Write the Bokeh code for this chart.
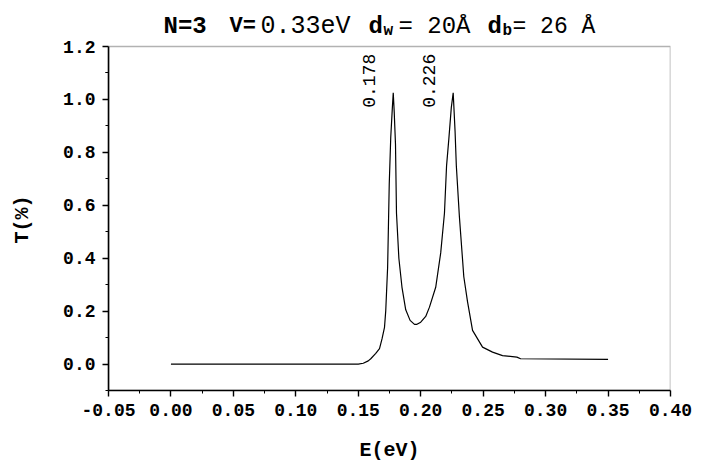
from bokeh.plotting import figure
from bokeh.models import Label, FixedTicker, PrintfTickFormatter, Range1d, BoxAnnotation
from bokeh.embed import file_html
from bokeh.resources import INLINE

# ---- data ----
energy = [0.000, 0.150, 0.154, 0.158, 0.160, 0.164, 0.167, 0.169, 0.171, 0.172,
          0.1735, 0.1748, 0.176, 0.1773, 0.178, 0.1788, 0.1798, 0.1806, 0.1825,
          0.1850, 0.1880, 0.1915, 0.1950, 0.1970, 0.2000, 0.2040, 0.2070, 0.2120,
          0.2160, 0.2190, 0.2207, 0.2225, 0.2245, 0.2260, 0.2275, 0.2285, 0.2310,
          0.2345, 0.2375, 0.2415, 0.2495, 0.2575, 0.2655, 0.2770, 0.2800, 0.3500]
trans = [0.000, 0.000, 0.003, 0.012, 0.020, 0.040, 0.058, 0.095, 0.139, 0.202,
         0.366, 0.681, 0.857, 0.970, 1.025, 0.950, 0.830, 0.570, 0.400,
         0.290, 0.205, 0.165, 0.150, 0.150, 0.158, 0.180, 0.215, 0.290,
         0.420, 0.570, 0.750, 0.850, 0.970, 1.025, 0.880, 0.750, 0.555,
         0.330, 0.235, 0.127, 0.064, 0.045, 0.032, 0.026, 0.020, 0.018]
peak_e = [0.178, 0.226]
peak_t = [1.025, 1.025]
peak_labels = ["0.178", "0.226"]
x_ticks = [-0.05, 0.00, 0.05, 0.10, 0.15, 0.20, 0.25, 0.30, 0.35, 0.40]
y_ticks = [0.0, 0.2, 0.4, 0.6, 0.8, 1.0, 1.2]
title_parts = ["N=3", "V=", "0.33eV", "d", "w", "= 20Å", "d", "b", "= 26 Å"]

MONO = "Liberation Mono"
X0, X1, Y0, Y1 = -0.05, 0.40, -0.1, 1.2
W, H = 700, 464
BL, BR, BB = 108, 30, 74
BOX_TOP = 46                      # pixel row of the visible box top
FW = W - BL - BR
FH = H - BB                       # frame reaches the canvas top (room for title)
PX_PER_Y = (FH - BOX_TOP) / (Y1 - Y0)
Y_TOP = Y0 + FH / PX_PER_Y
NBSP = "\u00a0"


def data_x(px):
    return X0 + (px - BL) / FW * (X1 - X0)


def data_y(py):
    return Y0 + (FH - py) / PX_PER_Y


p = figure(width=W, height=H, output_backend="svg", toolbar_location=None,
           x_range=Range1d(X0, X1), y_range=Range1d(Y0, Y_TOP),
           min_border_left=BL, min_border_right=BR, min_border_top=0,
           min_border_bottom=BB)
p.xgrid.visible = False
p.ygrid.visible = False
p.outline_line_color = None
p.background_fill_color = "white"
p.border_fill_color = "white"

# visible plot box
p.add_layout(BoxAnnotation(left=X0, right=X1, bottom=Y0, top=Y1,
                           fill_alpha=0, line_color="black", line_width=1.6))

p.line(energy, trans, line_color="black", line_width=1.2)

for ax in (p.xaxis[0], p.yaxis[0]):
    ax.axis_line_width = 1.6
    ax.axis_line_color = "black"
    ax.major_tick_line_color = "black"
    ax.minor_tick_line_color = "black"
    ax.major_tick_line_width = 1.4
    ax.major_tick_out = 6
    ax.major_tick_in = 0
    ax.minor_tick_out = 3
    ax.minor_tick_in = 0
    ax.major_label_text_font = MONO
    ax.major_label_text_font_style = "bold"
    ax.major_label_text_font_size = "18px"
    ax.major_label_text_color = "black"
    ax.axis_label_text_font = MONO
    ax.axis_label_text_font_style = "bold"
    ax.axis_label_text_color = "black"
    ax.major_label_standoff = 7

p.yaxis.bounds = (Y0, Y1)
p.xaxis.ticker = FixedTicker(ticks=x_ticks,
                             minor_ticks=[t + 0.025 for t in x_ticks[:-1]])
p.yaxis.ticker = FixedTicker(ticks=y_ticks,
                             minor_ticks=[t - 0.1 for t in y_ticks] + [1.1])
p.xaxis.formatter = PrintfTickFormatter(format="%.2f")
p.yaxis.formatter = PrintfTickFormatter(format="%.1f")
p.xaxis.axis_label = "E(eV)"
# trailing no-break spaces centre the visible label on the box, not the taller frame
p.yaxis.axis_label = "T(%)" + NBSP * 4
p.xaxis.axis_label_text_font_size = "20px"
p.yaxis.axis_label_text_font_size = "20px"
p.xaxis.axis_label_standoff = 20
p.yaxis.axis_label_standoff = 26

# peak annotations, rotated
for e, t, s in zip(peak_e, peak_t, peak_labels):
    p.add_layout(Label(x=e, y=t, text=s, angle=90, angle_units="deg",
                       x_offset=-18, y_offset=-15,
                       text_align="left", text_baseline="bottom",
                       text_font=MONO, text_font_size="18px", text_color="black"))

# title pieces: (left edge px, baseline px, style, size)
title_pos = [(163, 26, "bold", "24px"), (229, 26, "bold", "22px"),
             (260, 26, "normal", "25px"), (368, 26, "bold", "24px"),
             (383, 30, "bold", "16px"), (398, 26, "normal", "24px"),
             (487, 26, "bold", "24px"), (502, 30, "bold", "16px"),
             (512, 26, "normal", "23px")]
for s, (px, py, style, size) in zip(title_parts, title_pos):
    p.add_layout(Label(x=data_x(px), y=data_y(py), text=s,
                       text_font=MONO, text_font_style=style,
                       text_font_size=size, text_color="black",
                       text_align="left", text_baseline="alphabetic"))

open("out.html", "w").write(file_html(p, INLINE))
